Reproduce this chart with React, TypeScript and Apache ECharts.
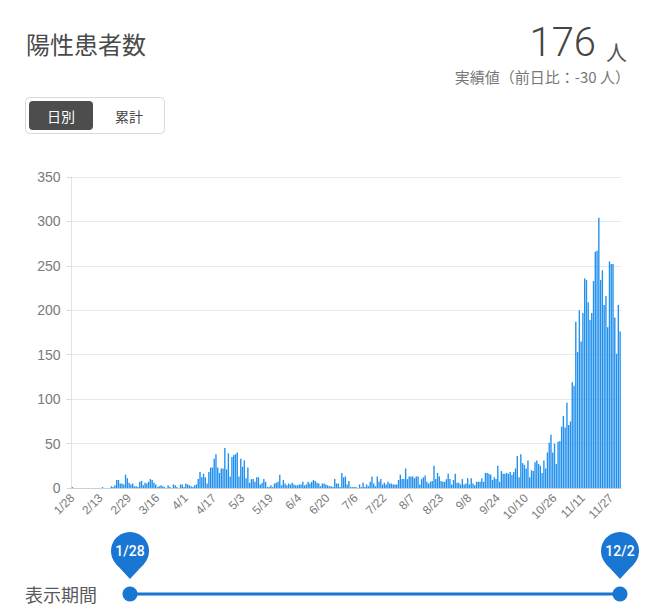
import React, { useEffect, useRef } from 'react';
import * as echarts from 'echarts';

// Daily new positive cases, 2020-01-28 .. 2020-12-02
const jan = [1, 0, 0, 0]; // 1/28 - 1/31
const feb = [0, 0, 0, 0, 0, 0, 0, 0, 0, 0, 0, 0, 0, 1, 0, 0, 0, 0, 2, 1, 3, 9, 9, 5, 5, 4, 15, 11, 6];
const mar = [4, 5, 2, 2, 1, 7, 8, 3, 6, 5, 7, 10, 9, 6, 4, 1, 2, 3, 2, 1, 0, 3, 1, 0, 4, 3, 1, 0, 4, 4, 1];
const apr = [5, 4, 3, 2, 1, 3, 4, 10, 18, 12, 16, 12, 5, 18, 23, 23, 33, 38, 23, 17, 22, 22, 45, 21, 39, 13, 35, 37, 38, 40];
const may = [13, 33, 24, 31, 11, 23, 6, 10, 10, 7, 12, 12, 4, 6, 10, 7, 1, 1, 3, 1, 5, 6, 7, 15, 3, 9, 5, 3, 5, 4, 6];
const jun = [4, 3, 3, 4, 4, 7, 3, 4, 7, 5, 7, 9, 8, 6, 5, 2, 5, 5, 4, 3, 2, 2, 1, 10, 5, 5, 1, 17, 12, 13];
const jul = [4, 8, 1, 1, 1, 1, 0, 4, 1, 6, 1, 4, 2, 7, 13, 5, 2, 13, 7, 10, 4, 6, 4, 7, 5, 5, 4, 4, 4, 9, 15];
const aug = [10, 10, 22, 10, 13, 13, 13, 11, 13, 13, 4, 10, 12, 14, 7, 5, 7, 8, 25, 10, 17, 13, 8, 7, 7, 10, 16, 10, 4, 9, 16];
const sep = [6, 6, 4, 10, 4, 5, 11, 4, 11, 5, 3, 7, 7, 7, 11, 7, 17, 17, 16, 15, 9, 12, 10, 25, 7, 19, 16, 16, 17, 16];
const oct = [18, 15, 18, 22, 36, 12, 38, 28, 26, 22, 31, 12, 20, 19, 29, 31, 27, 25, 17, 31, 22, 40, 51, 60, 40, 50, 27, 52, 53, 69, 81];
const nov = [68, 96, 71, 75, 119, 115, 187, 153, 200, 165, 197, 236, 234, 209, 189, 197, 233, 266, 267, 304, 234, 245, 206, 216, 181, 255, 252, 252, 192, 151];
const dec = [206, 176];

const monthBlocks: { month: number; startDay: number; values: number[] }[] = [
  { month: 1, startDay: 28, values: jan },
  { month: 2, startDay: 1, values: feb },
  { month: 3, startDay: 1, values: mar },
  { month: 4, startDay: 1, values: apr },
  { month: 5, startDay: 1, values: may },
  { month: 6, startDay: 1, values: jun },
  { month: 7, startDay: 1, values: jul },
  { month: 8, startDay: 1, values: aug },
  { month: 9, startDay: 1, values: sep },
  { month: 10, startDay: 1, values: oct },
  { month: 11, startDay: 1, values: nov },
  { month: 12, startDay: 1, values: dec },
];

const categories: string[] = [];
const values: number[] = [];
monthBlocks.forEach((b) => {
  b.values.forEach((v, k) => {
    categories.push(`${b.month}/${b.startDay + k}`);
    values.push(v);
  });
});

const TITLE = '陽性患者数';
const LATEST = '176';
const UNIT = '人';
const SUBTEXT = '実績値（前日比：-30 人）';
const TAB_DAILY = '日別';
const TAB_TOTAL = '累計';
const PERIOD_LABEL = '表示期間';
const RANGE_START = '1/28';
const RANGE_END = '12/2';

const CJK = "'Noto Sans CJK JP', 'Noto Sans', sans-serif";
const NUM = "Roboto, 'Noto Sans', sans-serif";
const AXIS_FONT = "'Liberation Sans', Arial, sans-serif";
const BLUE = '#1976d2';

function pin(cx: number, label: string) {
  const cy = 551;
  const r = 19;
  return [
    {
      type: 'polygon',
      shape: { points: [[cx - 13.9, cy + 12.9], [cx + 13.9, cy + 12.9], [cx, cy + 28]] },
      style: { fill: BLUE },
    },
    { type: 'circle', shape: { cx, cy, r }, style: { fill: BLUE } },
    {
      type: 'text',
      x: cx,
      y: cy,
      style: {
        text: label,
        fill: '#ffffff',
        font: `500 14px ${NUM}`,
        align: 'center',
        verticalAlign: 'middle',
      },
    },
  ];
}

export default function App() {
  const ref = useRef<HTMLDivElement>(null);

  useEffect(() => {
    if (!ref.current) return;
    const chart = echarts.init(ref.current, undefined, { renderer: 'svg' });
    chart.setOption({
      animation: false,
      backgroundColor: '#ffffff',
      grid: { left: 71.5, right: 35, top: 177, bottom: 121, outerBoundsMode: 'none' },
      xAxis: {
        type: 'category',
        data: categories,
        boundaryGap: true,
        axisLine: { lineStyle: { color: '#cfcfcf' } },
        axisTick: { show: false },
        axisLabel: {
          interval: 15,
          rotate: 45,
          fontSize: 12,
          color: '#7a7a7a',
          fontFamily: AXIS_FONT,
          margin: 8,
        },
        splitLine: { show: false },
      },
      yAxis: {
        type: 'value',
        min: 0,
        max: 350,
        interval: 50,
        axisLine: { show: true, lineStyle: { color: '#e3e3e3' } },
        axisTick: { show: true, length: 5, lineStyle: { color: '#d8d8d8' } },
        axisLabel: { fontSize: 14, color: '#7a7a7a', fontFamily: AXIS_FONT, margin: 11 },
        splitLine: { lineStyle: { color: '#e9e9e9' } },
      },
      series: [
        {
          type: 'bar',
          data: values,
          barCategoryGap: '22%',
          itemStyle: { color: '#2190ee' },
        },
      ],
      graphic: [
        {
          type: 'text',
          x: 26,
          y: 43,
          style: { text: TITLE, fill: '#4a4a4a', font: `24px ${CJK}`, verticalAlign: 'middle' },
        },
        {
          type: 'text',
          x: 596,
          y: 42.5,
          style: {
            text: LATEST,
            fill: '#444444',
            font: `300 40px ${NUM}`,
            align: 'right',
            verticalAlign: 'middle',
          },
        },
        {
          type: 'text',
          x: 606,
          y: 50.5,
          style: { text: UNIT, fill: '#555555', font: `21px ${CJK}`, verticalAlign: 'middle' },
        },
        {
          type: 'text',
          x: 630,
          y: 76,
          style: {
            text: SUBTEXT,
            fill: '#777777',
            font: `15px ${CJK}`,
            align: 'right',
            verticalAlign: 'middle',
          },
        },
        {
          type: 'rect',
          shape: { x: 25.5, y: 97.5, width: 139, height: 36, r: 4 },
          style: { fill: '#ffffff', stroke: '#d9d9d9', lineWidth: 1 },
        },
        {
          type: 'rect',
          shape: { x: 29, y: 101, width: 64, height: 29, r: 4 },
          style: { fill: '#4d4d4d' },
        },
        {
          type: 'text',
          x: 61,
          y: 115.5,
          style: {
            text: TAB_DAILY,
            fill: '#ffffff',
            font: `14px ${CJK}`,
            align: 'center',
            verticalAlign: 'middle',
          },
        },
        {
          type: 'text',
          x: 129,
          y: 115.5,
          style: {
            text: TAB_TOTAL,
            fill: '#444444',
            font: `14px ${CJK}`,
            align: 'center',
            verticalAlign: 'middle',
          },
        },
        {
          type: 'text',
          x: 25,
          y: 594,
          style: { text: PERIOD_LABEL, fill: '#5a5a5a', font: `18px ${CJK}`, verticalAlign: 'middle' },
        },
        {
          type: 'line',
          shape: { x1: 130, y1: 594, x2: 620, y2: 594 },
          style: { stroke: BLUE, lineWidth: 3 },
        },
        { type: 'circle', shape: { cx: 130, cy: 594, r: 7.5 }, style: { fill: BLUE } },
        { type: 'circle', shape: { cx: 620, cy: 594, r: 7.5 }, style: { fill: BLUE } },
        ...pin(130, RANGE_START),
        ...pin(620, RANGE_END),
      ],
    });
    return () => chart.dispose();
  }, []);

  return (
    <div
      ref={ref}
      style={{ position: 'absolute', left: 0, top: 0, width: 656, height: 609 }}
    />
  );
}
